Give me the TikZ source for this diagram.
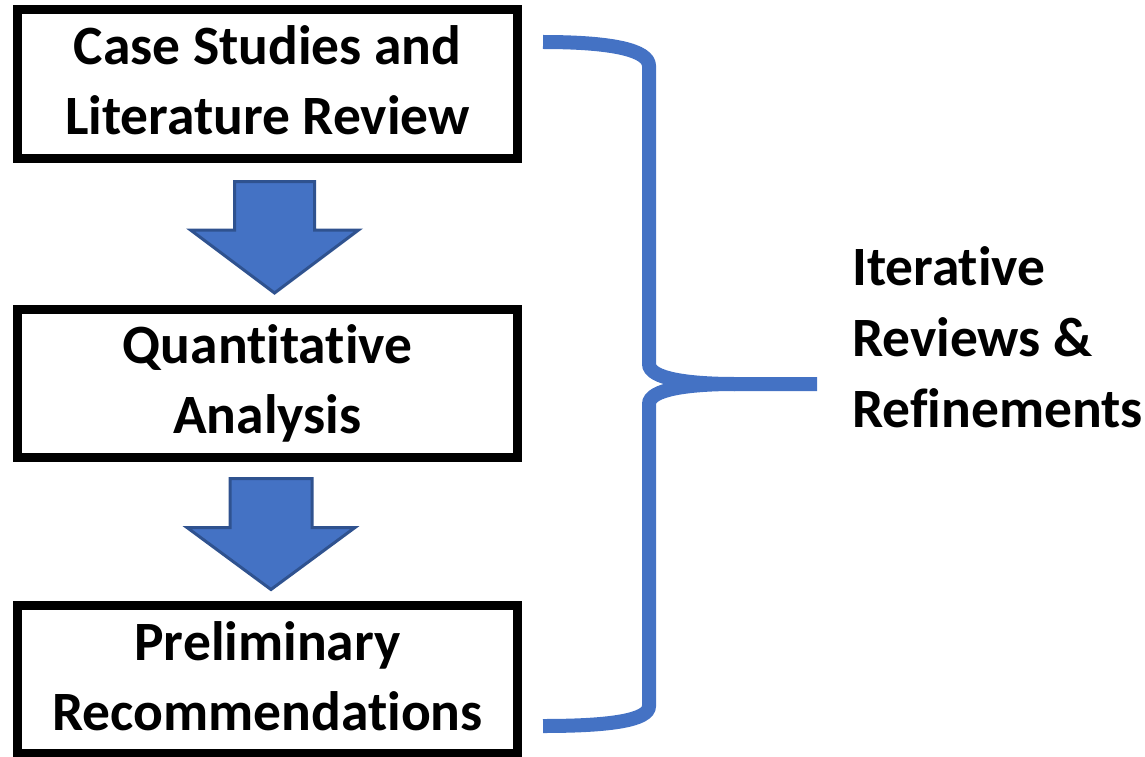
\documentclass[tikz,border=0pt]{standalone}
\usepackage{fontspec}
\setmainfont{Carlito}[Ligatures={NoCommon}]
\usetikzlibrary{calc}
\definecolor{brblue}{HTML}{4472C4}
\definecolor{brdark}{HTML}{2F528F}
\begin{document}
\begin{tikzpicture}[x=1pt,y=-1pt,
  box/.style={draw=black, line width=9pt, minimum width=500pt, minimum height=148pt, inner sep=0pt},
  boxtext/.style={font=\bfseries\fontsize{55.5}{70}\selectfont, align=center, anchor=base, inner sep=0pt},
  sidetext/.style={font=\bfseries\fontsize{55.5}{71}\selectfont, align=left, anchor=base west, inner sep=0pt},
  blockarrow/.style={fill=brblue, draw=brdark, line width=3pt, line join=miter},
  brace/.style={draw=brblue, line width=14pt, line cap=butt},
]
\useasboundingbox (0,0) rectangle (1145,757);

\node[box] (b1) at (267.5,84) {};
\node[box] (b2) at (267.5,383.5) {};
\node[box] (b3) at (267.5,679.5) {};

\node[boxtext] (t1) at (267.5,135) {Case Studies and\\Literature Review};
\node[boxtext] (t2) at (267.5,433) {Quantitative\\Analysis};
\node[boxtext] (t3) at (267.5,730) {Preliminary\\Recommendations};

% block arrows
\coordinate (a1top) at ($(b1.south)+(7,19)$);
\coordinate (a1tip) at ($(b2.north)+(7,-12)$);
\draw[blockarrow] ($(a1top)+(-40,0)$) -- ($(a1top)+(40,0)$) -- ($(a1tip)+(40,-63)$)
  -- ($(a1tip)+(84,-63)$) -- (a1tip) -- ($(a1tip)+(-84,-63)$) -- ($(a1tip)+(-40,-63)$) -- cycle;

\coordinate (a2top) at ($(b2.south)+(3.5,16.5)$);
\coordinate (a2tip) at ($(b3.north)+(3.5,-11.5)$);
\draw[blockarrow] ($(a2top)+(-41,0)$) -- ($(a2top)+(41,0)$) -- ($(a2tip)+(41,-62)$)
  -- ($(a2tip)+(84,-62)$) -- (a2tip) -- ($(a2tip)+(-84,-62)$) -- ($(a2tip)+(-41,-62)$) -- cycle;

% brace
\draw[brace] (543,42) .. controls (612,42) and (649,50) .. (649,66) -- (649,364)
  .. controls (649,379) and (690,384) .. (735,384) -- (817,384);
\draw[brace] (735,384) .. controls (690,384) and (649,389) .. (649,404) -- (649,706)
  .. controls (649,720) and (612,726) .. (543,726);

\node[sidetext] (lab) at (852,427) {Iterative\\Reviews \&\\Refinements};
\end{tikzpicture}
\end{document}
